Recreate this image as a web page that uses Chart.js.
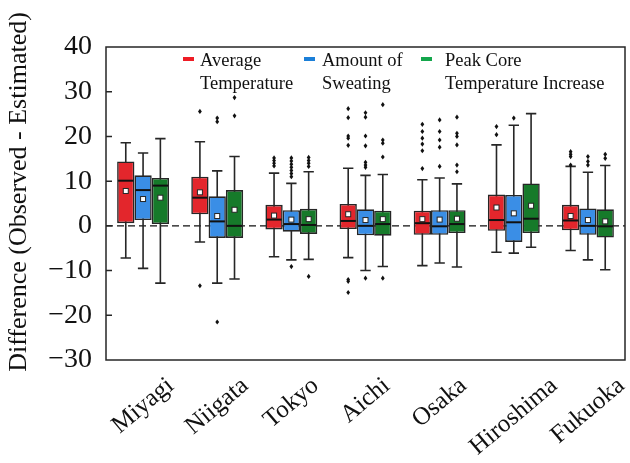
<!DOCTYPE html>
<html lang="en">
<head>
<meta charset="UTF-8">
<title>Difference by city</title>
<script src="https://cdn.jsdelivr.net/npm/chart.js"></script>
<style>
  body { margin: 0; background: #fff; }
  #wrap { width: 630px; height: 463px; }
</style>
</head>
<body>
<div id="wrap"><canvas id="box"></canvas></div>
<script>
// categories
const cities = ['Miyagi', 'Niigata', 'Tokyo', 'Aichi', 'Osaka', 'Hiroshima', 'Fukuoka'];
const seriesNames = [['Average', 'Temperature'], ['Amount of', 'Sweating'], ['Peak Core', 'Temperature Increase']];
const yTicks = [-30, -20, -10, 0, 10, 20, 30, 40];
const yTitle = 'Difference (Observed - Estimated)';

// Average Temperature
const tempQ1   = [0.6, 2.6, -0.8, -0.7, -2.0, -1.1, -1.0];
const tempMed  = [10.1, 6.3, 1.4, 1.1, 0.6, 1.3, 1.2];
const tempQ3   = [14.4, 11.0, 4.7, 4.9, 3.4, 7.0, 4.7];
const tempLo   = [-7.2, -3.6, -6.9, -7.1, -8.9, -5.9, -5.5];
const tempHi   = [18.6, 18.8, 11.8, 12.9, 10.3, 18.1, 13.3];
const tempMean = [7.8, 7.5, 2.3, 2.6, 1.5, 4.1, 2.2];
const tempOut  = [[], [25.6, -13.4], [15.2, 14.6, 14.0, 13.4],
  [26.2, 24.2, 20.1, 19.6, 18.0, -12.0, -12.4, -14.9],
  [22.7, 21.1, 19.6, 18.3, 16.8, 12.8], [22.2, 20.4], [16.6, 16.0, 15.5, 13.6]];

// Amount of Sweating
const sweatQ1   = [1.3, -2.7, -1.3, -2.1, -2.0, -3.6, -2.0];
const sweatMed  = [8.0, 1.0, 0.4, 0.0, -0.1, 0.8, 0.0];
const sweatQ3   = [11.3, 6.6, 3.5, 3.7, 3.5, 6.9, 3.9];
const sweatLo   = [-9.5, -12.8, -7.6, -10.0, -8.3, -6.1, -7.6];
const sweatHi   = [16.3, 12.3, 9.5, 11.3, 10.7, 22.5, 12.0];
const sweatMean = [6.0, 2.2, 1.4, 1.3, 1.4, 2.8, 1.3];
const sweatOut  = [[], [24.1, 23.3, -21.5], [15.2, 14.5, 13.8, 13.1, 12.4, 11.7, 11.0, -9.1],
  [25.3, 24.3, 20.1, 17.9, 14.2, 13.6, 13.1, -11.7],
  [23.7, 21.1, 19.2, 17.6, 13.3], [24.1], [15.5, 14.4, 13.6]];

// Peak Core Temperature Increase
const peakQ1   = [0.4, -2.7, -1.8, -2.2, -1.6, -1.6, -2.6];
const peakMed  = [9.0, 0.0, 0.2, 0.4, 0.4, 1.6, -0.1];
const peakQ3   = [10.7, 8.0, 3.8, 3.4, 3.5, 9.5, 3.7];
const peakLo   = [-12.8, -11.9, -7.5, -9.1, -9.2, -4.8, -9.8];
const peakHi   = [19.5, 15.5, 12.1, 11.5, 9.4, 25.1, 13.5];
const peakMean = [6.3, 3.6, 1.5, 1.5, 1.6, 4.5, 1.0];
const peakOut  = [[], [28.7, 24.6], [15.3, 14.6, 14.0, 13.3, -11.3],
  [27.1, 19.2, 18.5, 15.4, -11.7],
  [24.3, 20.7, 20.0, 18.1, 13.6, 12.1], [], [16.0, 15.1]];

const FONT = "'Liberation Serif', 'Times New Roman', serif";
const INK = '#262626';
const boxColors = ['#e3262c', '#3a8ee6', '#167a2a'];
const legendColors = ['#ee1c25', '#1b7fd8', '#14a64c'];

const stats = [
  { q1: tempQ1, q3: tempQ3, med: tempMed, lo: tempLo, hi: tempHi, mean: tempMean, out: tempOut },
  { q1: sweatQ1, q3: sweatQ3, med: sweatMed, lo: sweatLo, hi: sweatHi, mean: sweatMean, out: sweatOut },
  { q1: peakQ1, q3: peakQ3, med: peakMed, lo: peakLo, hi: peakHi, mean: peakMean, out: peakOut }
];

// whiskers, medians, means, outliers, frame, labels and legend
const boxExtras = {
  id: 'boxExtras',
  beforeDatasetsDraw(chart) {
    const ctx = chart.ctx, y = chart.scales.y, a = chart.chartArea;
    // zero line
    ctx.save();
    ctx.strokeStyle = '#111';
    ctx.lineWidth = 1.4;
    ctx.setLineDash([7, 4]);
    ctx.beginPath();
    ctx.moveTo(a.left, y.getPixelForValue(0));
    ctx.lineTo(a.right, y.getPixelForValue(0));
    ctx.stroke();
    ctx.setLineDash([]);
    // whiskers
    ctx.strokeStyle = INK;
    ctx.lineWidth = 1.6;
    stats.forEach((s, d) => {
      chart.getDatasetMeta(d).data.forEach((bar, i) => {
        const p = bar.getProps(['x', 'width'], true);
        const top = y.getPixelForValue(s.hi[i]), bot = y.getPixelForValue(s.lo[i]);
        const cap = p.width * 0.3;
        ctx.beginPath();
        ctx.moveTo(p.x, top); ctx.lineTo(p.x, bot);
        ctx.moveTo(p.x - cap, top); ctx.lineTo(p.x + cap, top);
        ctx.moveTo(p.x - cap, bot); ctx.lineTo(p.x + cap, bot);
        ctx.stroke();
      });
    });
    ctx.restore();
  },
  afterDatasetsDraw(chart) {
    const ctx = chart.ctx, y = chart.scales.y;
    ctx.save();
    stats.forEach((s, d) => {
      chart.getDatasetMeta(d).data.forEach((bar, i) => {
        const p = bar.getProps(['x', 'width'], true);
        const half = p.width / 2;
        // median
        const my = y.getPixelForValue(s.med[i]);
        ctx.strokeStyle = '#111';
        ctx.lineWidth = 2;
        ctx.beginPath();
        ctx.moveTo(p.x - half + 1, my); ctx.lineTo(p.x + half - 1, my);
        ctx.stroke();
        // mean
        const ey = y.getPixelForValue(s.mean[i]);
        ctx.fillStyle = '#fff';
        ctx.strokeStyle = INK;
        ctx.lineWidth = 1;
        ctx.fillRect(p.x - 2.5, ey - 2.5, 5, 5);
        ctx.strokeRect(p.x - 2.5, ey - 2.5, 5, 5);
        // outliers
        ctx.fillStyle = '#111';
        s.out[i].forEach(v => {
          const oy = y.getPixelForValue(v);
          ctx.beginPath();
          ctx.moveTo(p.x, oy - 2.6); ctx.lineTo(p.x + 1.9, oy);
          ctx.lineTo(p.x, oy + 2.6); ctx.lineTo(p.x - 1.9, oy);
          ctx.closePath();
          ctx.fill();
        });
      });
    });
    ctx.restore();
  },
  afterDraw(chart) {
    const ctx = chart.ctx, a = chart.chartArea, x = chart.scales.x, y = chart.scales.y;
    ctx.save();
    // frame
    ctx.strokeStyle = INK;
    ctx.lineWidth = 1.5;
    ctx.strokeRect(a.left, a.top, a.right - a.left, a.bottom - a.top);
    // inward y ticks
    ctx.beginPath();
    yTicks.slice(1, -1).forEach(v => {
      const ty = y.getPixelForValue(v);
      ctx.moveTo(a.left, ty); ctx.lineTo(a.left + 6, ty);
    });
    ctx.stroke();
    // y title
    ctx.fillStyle = '#111';
    ctx.font = '26px ' + FONT;
    ctx.textAlign = 'center';
    ctx.textBaseline = 'middle';
    ctx.save();
    ctx.translate(19, 192);
    ctx.rotate(-Math.PI / 2);
    ctx.fillText(yTitle, 0, 0);
    ctx.restore();
    // rotated category labels, centred under each group
    const ang = 40 * Math.PI / 180;
    ctx.font = '25px ' + FONT;
    cities.forEach((c, i) => {
      const w = ctx.measureText(c).width, h = 20;
      const bh = w * Math.sin(ang) + h * Math.cos(ang);
      ctx.save();
      ctx.translate(x.getPixelForValue(i), a.bottom + 15 + bh / 2);
      ctx.rotate(-ang);
      ctx.fillText(c, 0, 0);
      ctx.restore();
    });
    // legend inside the plot
    const items = [[183, 200], [304, 322], [421, 445]];
    ctx.font = '18.5px ' + FONT;
    ctx.textAlign = 'left';
    ctx.textBaseline = 'alphabetic';
    items.forEach(([bx, tx], k) => {
      ctx.fillStyle = legendColors[k];
      ctx.fillRect(bx, 57, 11, 4);
      ctx.fillStyle = '#111';
      seriesNames[k].forEach((line, j) => ctx.fillText(line, tx, 66 + j * 23));
    });
    ctx.restore();
  }
};

new Chart(document.getElementById('box'), {
  type: 'bar',
  data: {
    labels: cities,
    datasets: stats.map((s, d) => ({
      label: seriesNames[d].join(' '),
      data: cities.map((c, i) => [s.q1[i], s.q3[i]]),
      backgroundColor: boxColors[d],
      borderColor: INK,
      borderWidth: 1.6,
      borderSkipped: false,
      categoryPercentage: 0.7,
      barPercentage: 1.0
    }))
  },
  options: {
    responsive: true,
    maintainAspectRatio: false,
    animation: false,
    layout: { padding: { left: 0, top: 47, right: 5, bottom: 0 } },
    plugins: { legend: { display: false }, tooltip: { enabled: false } },
    scales: {
      x: {
        grid: { display: false },
        border: { display: false },
        ticks: { display: false },
        afterFit(scale) { scale.height = 103; }
      },
      y: {
        min: -30,
        max: 40,
        afterBuildTicks(scale) { scale.ticks = yTicks.map(v => ({ value: v })); },
        grid: { display: false },
        border: { display: false },
        ticks: {
          padding: 6,
          color: '#111',
          font: { family: FONT, size: 28 },
          callback: v => (v < 0 ? '\u2212' + Math.abs(v) : String(v))
        },
        afterFit(scale) { scale.width = 106; }
      }
    }
  },
  plugins: [boxExtras]
});
</script>
</body>
</html>
